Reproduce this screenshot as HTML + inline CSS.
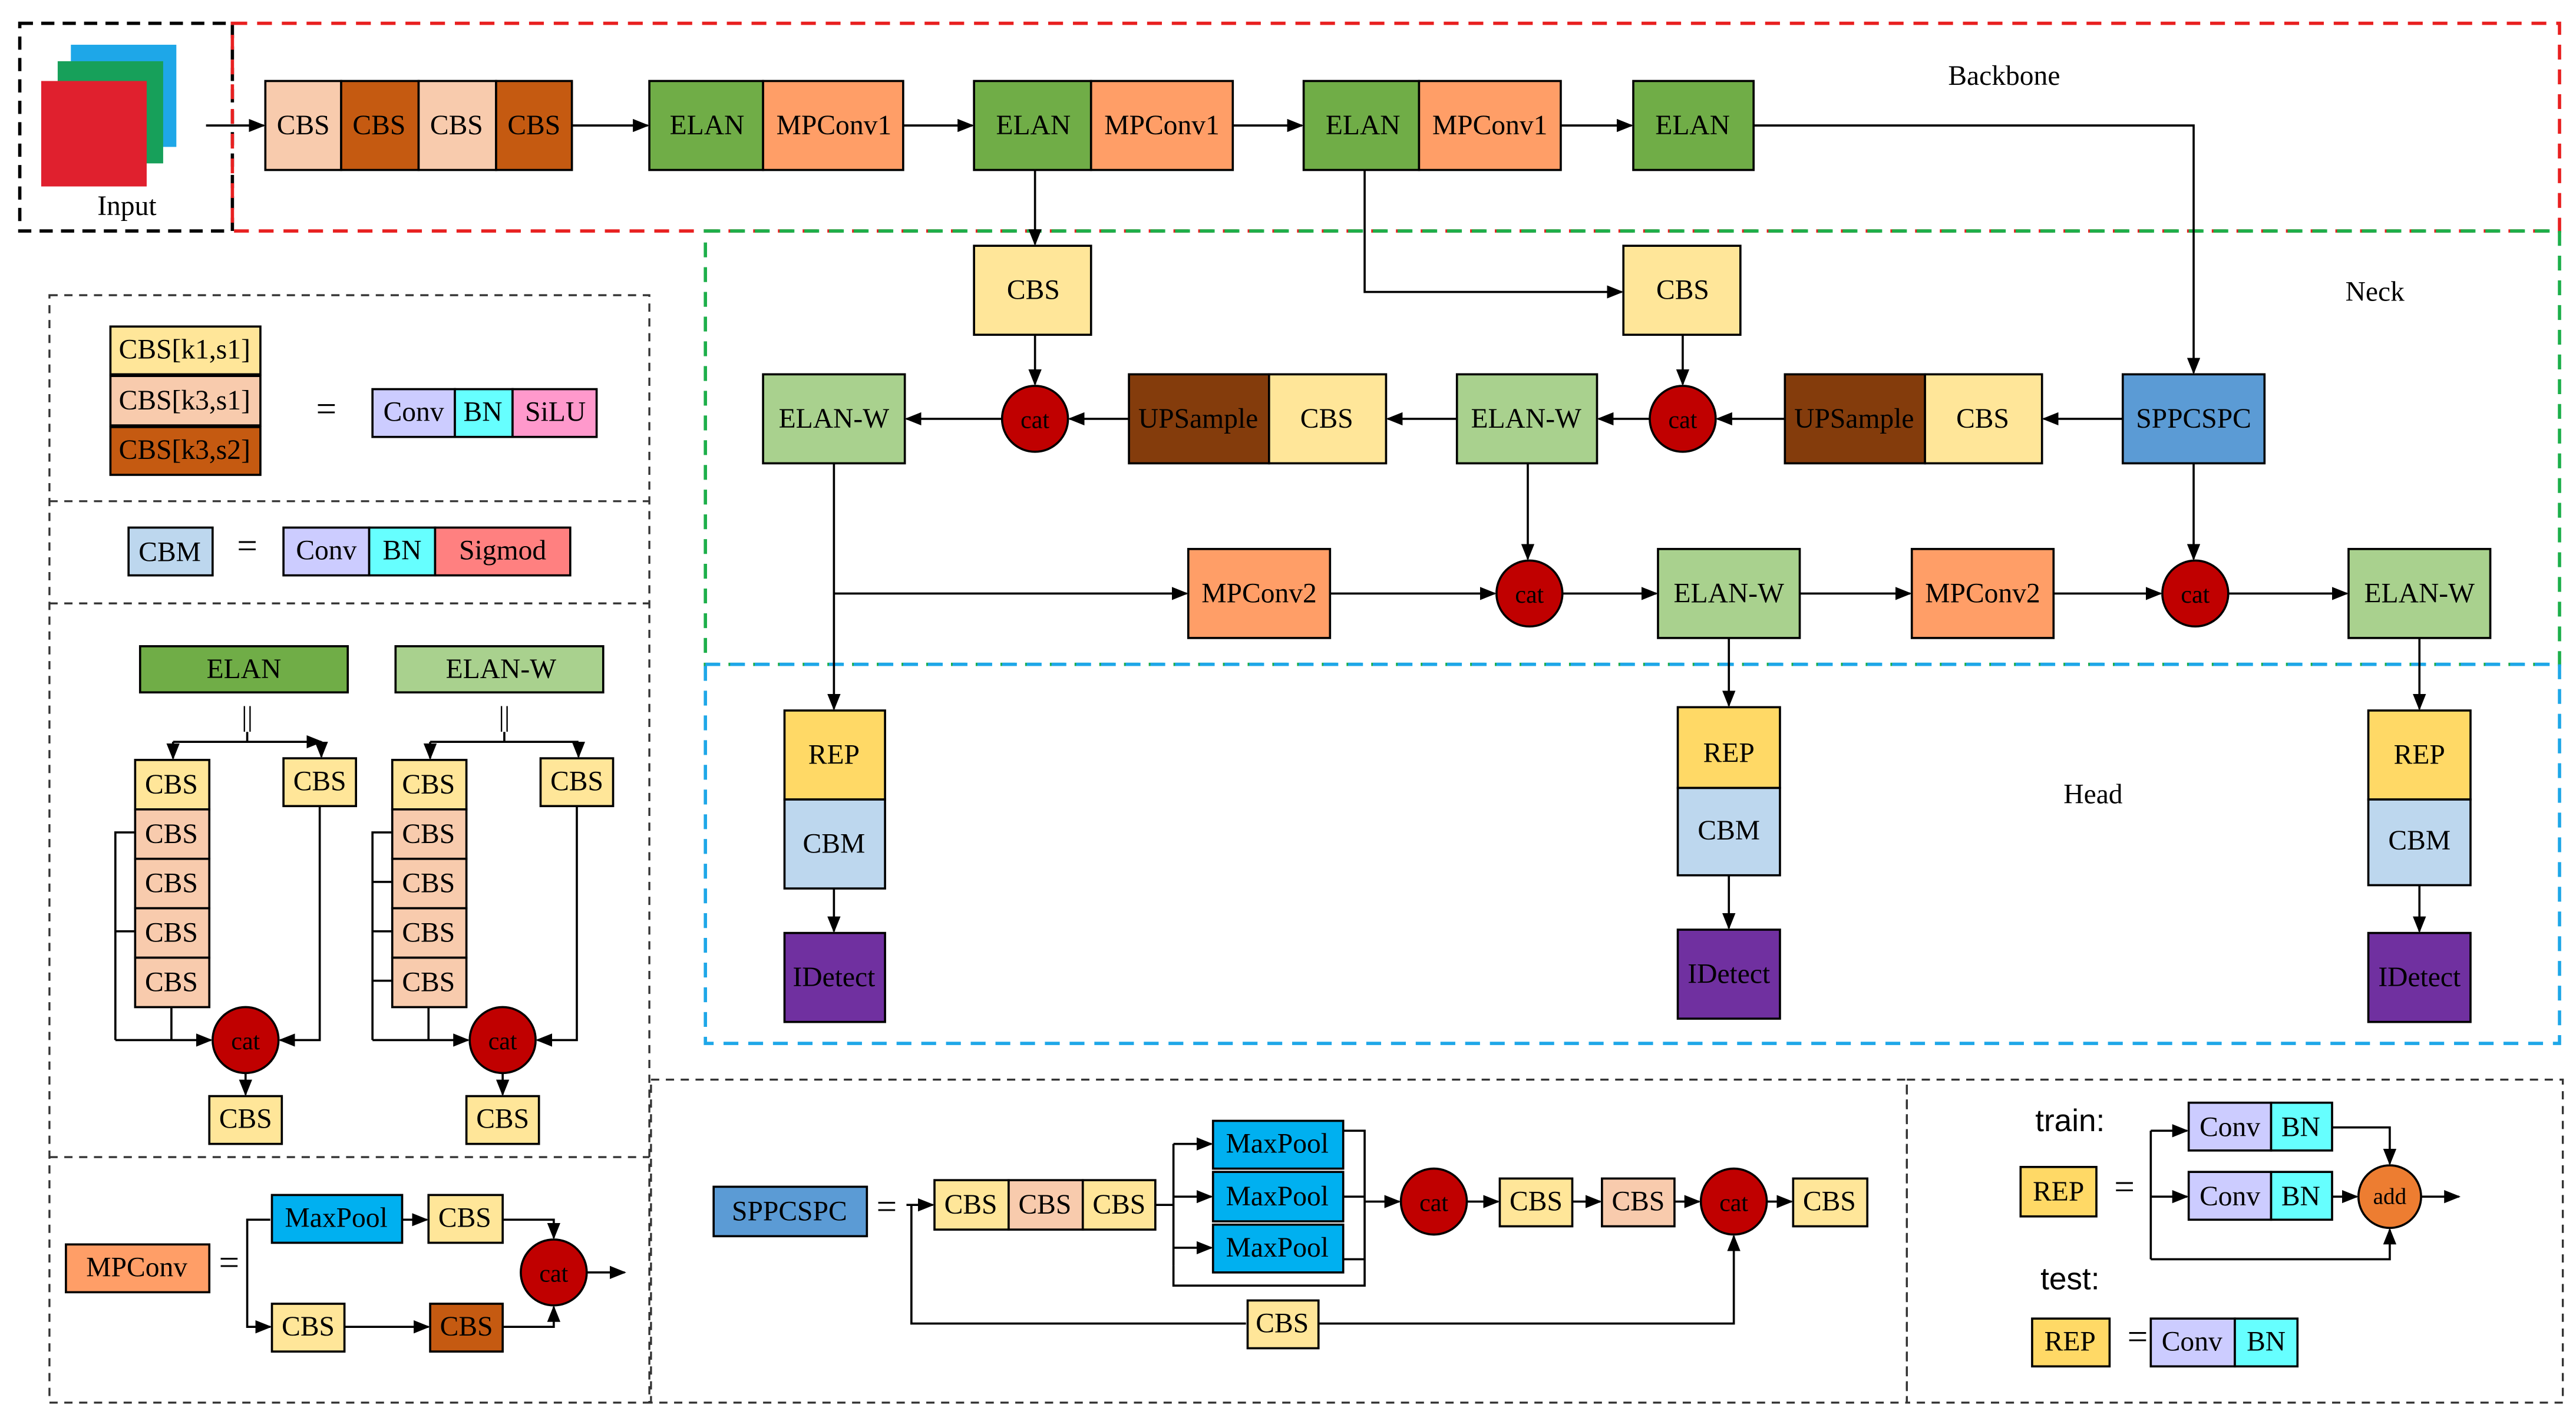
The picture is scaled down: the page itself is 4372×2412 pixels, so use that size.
<!DOCTYPE html>
<html><head><meta charset="utf-8"><style>
html,body{margin:0;padding:0;background:#fff}
svg{display:block}
text{font-family:"Liberation Serif",serif;font-size:17px;fill:#000;text-anchor:middle;dominant-baseline:central}
.b{stroke:#000;stroke-width:1.3}
.l{stroke:#000;stroke-width:1.3;fill:none}
.la{stroke:#000;stroke-width:1.3;fill:none;marker-end:url(#ah)}
</style></head><body>
<svg width="4372" height="2412" viewBox="0 0 1563 862" xmlns="http://www.w3.org/2000/svg">
<defs><marker id="ah" markerWidth="10" markerHeight="8" refX="9" refY="4" orient="auto" markerUnits="userSpaceOnUse"><path d="M0,0 L10,4 L0,8 z" fill="#000"/></marker></defs>
<rect width="1563" height="862" fill="#fff"/>

<!-- Input -->
<rect x="12" y="14" width="129" height="126" fill="none" stroke="#000" stroke-width="2" stroke-dasharray="8,5"/>
<rect x="43" y="27" width="64" height="62" fill="#1EA7E8"/>
<rect x="35" y="37" width="64" height="62" fill="#17A05A"/>
<rect x="25" y="49" width="64" height="64" fill="#E0202E"/>
<text x="77" y="125">Input</text>
<line class="la" x1="125" y1="76" x2="160" y2="76"/>

<!-- region boxes -->
<rect x="141" y="14" width="1412" height="126" fill="none" stroke="#E82020" stroke-width="2" stroke-dasharray="9,6"/>
<rect x="428" y="140" width="1125" height="263" fill="none" stroke="#1DAF4A" stroke-width="2" stroke-dasharray="9,6"/>
<rect x="428" y="403" width="1125" height="230" fill="none" stroke="#1EA7E8" stroke-width="2" stroke-dasharray="9,6"/>
<text x="1216" y="46">Backbone</text>
<text x="1441" y="177">Neck</text>
<text x="1270" y="482">Head</text>

<!-- Backbone row -->
<rect class="b" x="161" y="49" width="46" height="54" fill="#F8CBAD"/><text x="184" y="76">CBS</text>
<rect class="b" x="207" y="49" width="47" height="54" fill="#C55A11"/><text x="230" y="76">CBS</text>
<rect class="b" x="254" y="49" width="47" height="54" fill="#F8CBAD"/><text x="277" y="76">CBS</text>
<rect class="b" x="301" y="49" width="46" height="54" fill="#C55A11"/><text x="324" y="76">CBS</text>
<line class="la" x1="347" y1="76" x2="393" y2="76"/>
<rect class="b" x="394" y="49" width="69" height="54" fill="#70AD47"/><text x="429" y="76">ELAN</text>
<rect class="b" x="463" y="49" width="85" height="54" fill="#FF9E67"/><text x="506" y="76">MPConv1</text>
<line class="la" x1="548" y1="76" x2="590" y2="76"/>
<rect class="b" x="591" y="49" width="71" height="54" fill="#70AD47"/><text x="627" y="76">ELAN</text>
<rect class="b" x="662" y="49" width="86" height="54" fill="#FF9E67"/><text x="705" y="76">MPConv1</text>
<line class="la" x1="748" y1="76" x2="790" y2="76"/>
<rect class="b" x="791" y="49" width="70" height="54" fill="#70AD47"/><text x="827" y="76">ELAN</text>
<rect class="b" x="861" y="49" width="86" height="54" fill="#FF9E67"/><text x="904" y="76">MPConv1</text>
<line class="la" x1="947" y1="76" x2="990" y2="76"/>
<rect class="b" x="991" y="49" width="73" height="54" fill="#70AD47"/><text x="1027" y="76">ELAN</text>
<polyline class="la" points="1064,76 1331,76 1331,226"/>

<!-- Neck -->
<line class="la" x1="628" y1="103" x2="628" y2="148"/>
<rect class="b" x="591" y="149" width="71" height="54" fill="#FFE699"/><text x="627" y="176">CBS</text>
<polyline class="la" points="828,103 828,177 984,177"/>
<rect class="b" x="985" y="149" width="71" height="54" fill="#FFE699"/><text x="1021" y="176">CBS</text>
<line class="la" x1="628" y1="203" x2="628" y2="233"/>
<line class="la" x1="1021" y1="203" x2="1021" y2="233"/>

<rect class="b" x="463" y="227" width="86" height="54" fill="#A9D18E"/><text x="506" y="254">ELAN-W</text>
<circle class="b" cx="628" cy="254" r="20" fill="#C00000"/><text x="628" y="255" style="font-size:15px">cat</text>
<rect class="b" x="685" y="227" width="85" height="54" fill="#843C0C"/><text x="727" y="254">UPSample</text>
<rect class="b" x="770" y="227" width="71" height="54" fill="#FFE699"/><text x="805" y="254">CBS</text>
<rect class="b" x="884" y="227" width="85" height="54" fill="#A9D18E"/><text x="926" y="254">ELAN-W</text>
<circle class="b" cx="1021" cy="254" r="20" fill="#C00000"/><text x="1021" y="255" style="font-size:15px">cat</text>
<rect class="b" x="1083" y="227" width="85" height="54" fill="#843C0C"/><text x="1125" y="254">UPSample</text>
<rect class="b" x="1168" y="227" width="71" height="54" fill="#FFE699"/><text x="1203" y="254">CBS</text>
<rect class="b" x="1288" y="227" width="86" height="54" fill="#5B9BD5"/><text x="1331" y="254">SPPCSPC</text>
<line class="la" x1="1288" y1="254" x2="1240" y2="254"/>
<line class="la" x1="1083" y1="254" x2="1042" y2="254"/>
<line class="la" x1="1001" y1="254" x2="970" y2="254"/>
<line class="la" x1="884" y1="254" x2="842" y2="254"/>
<line class="la" x1="685" y1="254" x2="649" y2="254"/>
<line class="la" x1="608" y1="254" x2="550" y2="254"/>

<rect class="b" x="721" y="333" width="86" height="54" fill="#FF9E67"/><text x="764" y="360">MPConv2</text>
<circle class="b" cx="928" cy="360" r="20" fill="#C00000"/><text x="928" y="361" style="font-size:15px">cat</text>
<rect class="b" x="1006" y="333" width="86" height="54" fill="#A9D18E"/><text x="1049" y="360">ELAN-W</text>
<rect class="b" x="1160" y="333" width="86" height="54" fill="#FF9E67"/><text x="1203" y="360">MPConv2</text>
<circle class="b" cx="1332" cy="360" r="20" fill="#C00000"/><text x="1332" y="361" style="font-size:15px">cat</text>
<rect class="b" x="1425" y="333" width="86" height="54" fill="#A9D18E"/><text x="1468" y="360">ELAN-W</text>
<line class="la" x1="506" y1="281" x2="506" y2="430"/>
<line class="la" x1="506" y1="360" x2="720" y2="360"/>
<line class="la" x1="807" y1="360" x2="907" y2="360"/>
<line class="la" x1="927" y1="281" x2="927" y2="339"/>
<line class="la" x1="948" y1="360" x2="1005" y2="360"/>
<line class="la" x1="1092" y1="360" x2="1159" y2="360"/>
<line class="la" x1="1246" y1="360" x2="1311" y2="360"/>
<line class="la" x1="1331" y1="281" x2="1331" y2="339"/>
<line class="la" x1="1352" y1="360" x2="1424" y2="360"/>

<!-- Head -->
<rect class="b" x="476" y="431" width="61" height="54" fill="#FFD966"/><text x="506" y="458">REP</text>
<rect class="b" x="476" y="485" width="61" height="54" fill="#BDD7EE"/><text x="506" y="512">CBM</text>
<line class="la" x1="506" y1="539" x2="506" y2="565"/>
<rect class="b" x="476" y="566" width="61" height="54" fill="#7030A0"/><text x="506" y="593">IDetect</text>

<line class="la" x1="1049" y1="387" x2="1049" y2="428"/>
<rect class="b" x="1018" y="429" width="62" height="49" fill="#FFD966"/><text x="1049" y="457">REP</text>
<rect class="b" x="1018" y="478" width="62" height="53" fill="#BDD7EE"/><text x="1049" y="504">CBM</text>
<line class="la" x1="1049" y1="531" x2="1049" y2="563"/>
<rect class="b" x="1018" y="564" width="62" height="54" fill="#7030A0"/><text x="1049" y="591">IDetect</text>

<line class="la" x1="1468" y1="387" x2="1468" y2="430"/>
<rect class="b" x="1437" y="431" width="62" height="54" fill="#FFD966"/><text x="1468" y="458">REP</text>
<rect class="b" x="1437" y="485" width="62" height="52" fill="#BDD7EE"/><text x="1468" y="510">CBM</text>
<line class="la" x1="1468" y1="537" x2="1468" y2="565"/>
<rect class="b" x="1437" y="566" width="62" height="54" fill="#7030A0"/><text x="1468" y="593">IDetect</text>

<!-- Left legend -->
<g fill="none" stroke="#333" stroke-width="1.2" stroke-dasharray="5,4">
<rect x="30" y="179" width="364" height="672"/>
<line x1="30" y1="304" x2="394" y2="304"/>
<line x1="30" y1="366" x2="394" y2="366"/>
<line x1="30" y1="702" x2="394" y2="702"/>
<rect x="395" y="655" width="762" height="196"/>
<rect x="1157" y="655" width="398" height="196"/>
</g>
<rect class="b" x="67" y="198" width="91" height="29" fill="#FFE699"/><text x="112" y="212">CBS[k1,s1]</text>
<rect class="b" x="67" y="228" width="91" height="30" fill="#F8CBAD"/><text x="112" y="243">CBS[k3,s1]</text>
<rect class="b" x="67" y="259" width="91" height="29" fill="#C55A11"/><text x="112" y="273">CBS[k3,s2]</text>
<text x="198" y="248" style="font-size:22px">=</text>
<rect class="b" x="226" y="236" width="50" height="29" fill="#CCCCFF"/><text x="251" y="250">Conv</text>
<rect class="b" x="276" y="236" width="35" height="29" fill="#66FFFF"/><text x="293" y="250">BN</text>
<rect class="b" x="311" y="236" width="51" height="29" fill="#FF99CC"/><text x="337" y="250">SiLU</text>

<rect class="b" x="78" y="320" width="51" height="29" fill="#BDD7EE"/><text x="103" y="335">CBM</text>
<text x="150" y="331" style="font-size:22px">=</text>
<rect class="b" x="172" y="320" width="52" height="29" fill="#CCCCFF"/><text x="198" y="334">Conv</text>
<rect class="b" x="224" y="320" width="40" height="29" fill="#66FFFF"/><text x="244" y="334">BN</text>
<rect class="b" x="264" y="320" width="82" height="29" fill="#FF8080"/><text x="305" y="334">Sigmod</text>

<!-- ELAN legend -->
<g id="elan">
<rect class="b" x="85" y="392" width="126" height="28" fill="#70AD47"/><text x="148" y="406">ELAN</text>
<text x="150" y="435">||</text>
<polyline class="l" points="150,444 150,450"/>
<polyline class="la" points="105,450 195,450"/>
<line class="la" x1="105" y1="450" x2="105" y2="460"/>
<line class="la" x1="195" y1="450" x2="195" y2="459"/>
<rect class="b" x="82" y="461" width="45" height="30" fill="#FFE699"/><text x="104" y="476">CBS</text>
<rect class="b" x="82" y="491" width="45" height="30" fill="#F8CBAD"/><text x="104" y="506">CBS</text>
<rect class="b" x="82" y="521" width="45" height="30" fill="#F8CBAD"/><text x="104" y="536">CBS</text>
<rect class="b" x="82" y="551" width="45" height="30" fill="#F8CBAD"/><text x="104" y="566">CBS</text>
<rect class="b" x="82" y="581" width="45" height="30" fill="#F8CBAD"/><text x="104" y="596">CBS</text>
<rect class="b" x="172" y="460" width="44" height="29" fill="#FFE699"/><text x="194" y="474">CBS</text>
<polyline class="l" points="82,505 70,505 70,631"/>
<line class="l" x1="70" y1="565" x2="82" y2="565"/>
<line class="la" x1="70" y1="631" x2="128" y2="631"/>
<line class="l" x1="104" y1="611" x2="104" y2="631"/>
<polyline class="la" points="194,489 194,631 170,631"/>
<circle class="b" cx="149" cy="631" r="20" fill="#C00000"/><text x="149" y="632" style="font-size:15px">cat</text>
<line class="la" x1="149" y1="651" x2="149" y2="664"/>
<rect class="b" x="127" y="665" width="44" height="29" fill="#FFE699"/><text x="149" y="679">CBS</text>
</g>
<g>
<rect class="b" x="240" y="392" width="126" height="28" fill="#A9D18E"/><text x="304" y="406">ELAN-W</text>
<text x="306" y="435">||</text>
<polyline class="l" points="306,444 306,450"/>
<polyline class="l" points="261,450 351,450"/>
<line class="la" x1="261" y1="450" x2="261" y2="460"/>
<line class="la" x1="351" y1="450" x2="351" y2="459"/>
<rect class="b" x="238" y="461" width="45" height="30" fill="#FFE699"/><text x="260" y="476">CBS</text>
<rect class="b" x="238" y="491" width="45" height="30" fill="#F8CBAD"/><text x="260" y="506">CBS</text>
<rect class="b" x="238" y="521" width="45" height="30" fill="#F8CBAD"/><text x="260" y="536">CBS</text>
<rect class="b" x="238" y="551" width="45" height="30" fill="#F8CBAD"/><text x="260" y="566">CBS</text>
<rect class="b" x="238" y="581" width="45" height="30" fill="#F8CBAD"/><text x="260" y="596">CBS</text>
<rect class="b" x="328" y="460" width="44" height="29" fill="#FFE699"/><text x="350" y="474">CBS</text>
<polyline class="l" points="238,505 226,505 226,631"/>
<line class="l" x1="226" y1="535" x2="238" y2="535"/>
<line class="l" x1="226" y1="565" x2="238" y2="565"/>
<line class="l" x1="226" y1="595" x2="238" y2="595"/>
<line class="la" x1="226" y1="631" x2="284" y2="631"/>
<line class="l" x1="260" y1="611" x2="260" y2="631"/>
<polyline class="la" points="350,489 350,631 326,631"/>
<circle class="b" cx="305" cy="631" r="20" fill="#C00000"/><text x="305" y="632" style="font-size:15px">cat</text>
<line class="la" x1="305" y1="651" x2="305" y2="664"/>
<rect class="b" x="283" y="665" width="44" height="29" fill="#FFE699"/><text x="305" y="679">CBS</text>
</g>

<!-- MPConv legend -->
<rect class="b" x="40" y="755" width="87" height="29" fill="#FF9E67"/><text x="83" y="769">MPConv</text>
<text x="139" y="766" style="font-size:22px">=</text>
<polyline class="la" points="164,740 150,740 150,805 164,805"/>
<rect class="b" x="165" y="725" width="79" height="29" fill="#00B0F0"/><text x="204" y="739">MaxPool</text>
<line class="la" x1="244" y1="740" x2="259" y2="740"/>
<rect class="b" x="260" y="725" width="45" height="29" fill="#FFE699"/><text x="282" y="739">CBS</text>
<polyline class="la" points="305,740 336,740 336,751"/>
<rect class="b" x="165" y="791" width="44" height="29" fill="#FFE699"/><text x="187" y="805">CBS</text>
<line class="la" x1="209" y1="805" x2="260" y2="805"/>
<rect class="b" x="261" y="791" width="44" height="29" fill="#C55A11"/><text x="283" y="805">CBS</text>
<polyline class="la" points="305,805 336,805 336,793"/>
<circle class="b" cx="336" cy="772" r="20" fill="#C00000"/><text x="336" y="773" style="font-size:15px">cat</text>
<line class="la" x1="356" y1="772" x2="379" y2="772"/>

<!-- SPPCSPC legend -->
<rect class="b" x="433" y="720" width="93" height="30" fill="#5B9BD5"/><text x="479" y="735">SPPCSPC</text>
<text x="538" y="732" style="font-size:22px">=</text>
<line class="la" x1="550" y1="731" x2="566" y2="731"/>
<polyline class="l" points="553,731 553,803 756,803"/>
<rect class="b" x="567" y="716" width="45" height="30" fill="#FFE699"/><text x="589" y="731">CBS</text>
<rect class="b" x="612" y="716" width="45" height="30" fill="#F8CBAD"/><text x="634" y="731">CBS</text>
<rect class="b" x="657" y="716" width="44" height="30" fill="#FFE699"/><text x="679" y="731">CBS</text>
<line class="l" x1="701" y1="731" x2="712" y2="731"/>
<polyline class="l" points="712,694 712,768"/>
<line class="la" x1="712" y1="694" x2="735" y2="694"/>
<line class="la" x1="712" y1="726" x2="735" y2="726"/>
<line class="la" x1="712" y1="757" x2="735" y2="757"/>
<rect class="b" x="736" y="680" width="79" height="29" fill="#00B0F0"/><text x="775" y="694">MaxPool</text>
<rect class="b" x="736" y="711" width="79" height="30" fill="#00B0F0"/><text x="775" y="726">MaxPool</text>
<rect class="b" x="736" y="743" width="79" height="29" fill="#00B0F0"/><text x="775" y="757">MaxPool</text>
<polyline class="l" points="815,686 828,686 828,780 712,780 712,768"/>
<line class="l" x1="815" y1="726" x2="828" y2="726"/>
<line class="l" x1="815" y1="764" x2="828" y2="764"/>
<line class="la" x1="828" y1="729" x2="849" y2="729"/>
<circle class="b" cx="870" cy="729" r="20" fill="#C00000"/><text x="870" y="730" style="font-size:15px">cat</text>
<line class="la" x1="890" y1="729" x2="909" y2="729"/>
<rect class="b" x="910" y="715" width="44" height="29" fill="#FFE699"/><text x="932" y="729">CBS</text>
<line class="la" x1="954" y1="729" x2="971" y2="729"/>
<rect class="b" x="972" y="715" width="44" height="29" fill="#F8CBAD"/><text x="994" y="729">CBS</text>
<line class="la" x1="1016" y1="729" x2="1031" y2="729"/>
<circle class="b" cx="1052" cy="729" r="20" fill="#C00000"/><text x="1052" y="730" style="font-size:15px">cat</text>
<line class="la" x1="1072" y1="729" x2="1087" y2="729"/>
<rect class="b" x="1088" y="715" width="45" height="29" fill="#FFE699"/><text x="1110" y="729">CBS</text>
<rect class="b" x="757" y="789" width="43" height="29" fill="#FFE699"/><text x="778" y="803">CBS</text>
<polyline class="la" points="800,803 1052,803 1052,750"/>

<!-- REP legend -->
<text x="1256" y="680" style="font-size:19px;font-family:'Liberation Sans',sans-serif">train:</text>
<rect class="b" x="1226" y="708" width="46" height="30" fill="#FFD966"/><text x="1249" y="723">REP</text>
<text x="1289" y="720" style="font-size:22px">=</text>
<polyline class="l" points="1305,686 1305,764"/>
<line class="la" x1="1305" y1="686" x2="1327" y2="686"/>
<line class="la" x1="1305" y1="726" x2="1327" y2="726"/>
<rect class="b" x="1328" y="669" width="50" height="29" fill="#CCCCFF"/><text x="1353" y="684">Conv</text>
<rect class="b" x="1378" y="669" width="37" height="29" fill="#66FFFF"/><text x="1396" y="684">BN</text>
<rect class="b" x="1328" y="711" width="50" height="29" fill="#CCCCFF"/><text x="1353" y="726">Conv</text>
<rect class="b" x="1378" y="711" width="37" height="29" fill="#66FFFF"/><text x="1396" y="726">BN</text>
<polyline class="la" points="1415,684 1450,684 1450,706"/>
<line class="la" x1="1415" y1="726" x2="1430" y2="726"/>
<polyline class="la" points="1305,764 1450,764 1450,746"/>
<circle class="b" cx="1450" cy="726" r="19" fill="#ED7D31"/><text x="1450" y="726" style="font-size:14px">add</text>
<line class="la" x1="1469" y1="726" x2="1492" y2="726"/>
<text x="1256" y="776" style="font-size:19px;font-family:'Liberation Sans',sans-serif">test:</text>
<rect class="b" x="1233" y="800" width="47" height="29" fill="#FFD966"/><text x="1256" y="814">REP</text>
<text x="1297" y="811" style="font-size:22px">=</text>
<rect class="b" x="1305" y="800" width="51" height="29" fill="#CCCCFF"/><text x="1330" y="814">Conv</text>
<rect class="b" x="1356" y="800" width="38" height="29" fill="#66FFFF"/><text x="1375" y="814">BN</text>
</svg>
</body></html>
